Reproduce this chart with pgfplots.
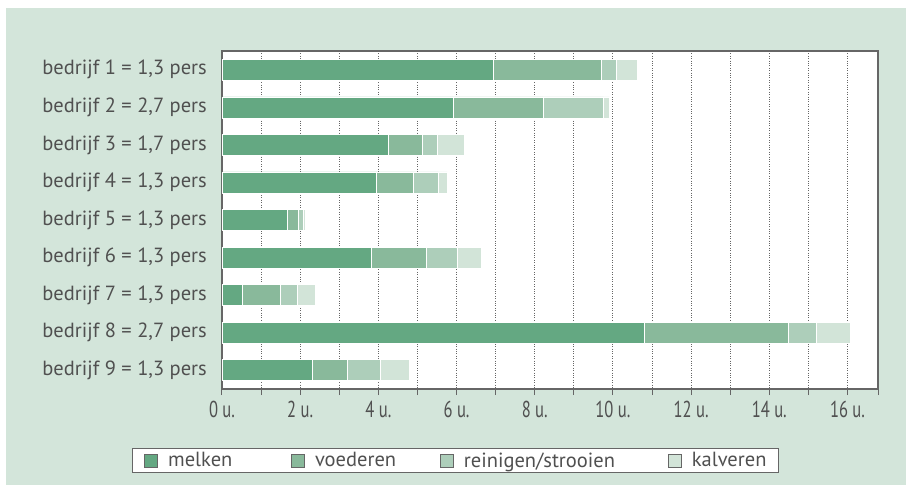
\documentclass[border=0pt]{standalone}
\usepackage{pgfplots}
\usepackage{pgfplotstable}
\pgfplotsset{compat=1.18}
\usepackage{fontspec}
\setmainfont{PT Sans}
\newfontfamily\condfont[FakeStretch=0.72]{PT Sans}

\definecolor{bg}{HTML}{D3E5DA}
\definecolor{melken}{HTML}{64A882}
\definecolor{voeder}{HTML}{89B99B}
\definecolor{reinig}{HTML}{ADCEBA}
\definecolor{kalver}{HTML}{D2E4D8}
\definecolor{txt}{HTML}{505050}
\definecolor{frame}{HTML}{666666}

% uren per taak, per bedrijf
\pgfplotstableread{
y  melken voederen reinigen kalveren
1  6.95   2.76     0.38     0.54
2  5.92   2.30     1.54     0.15
3  4.26   0.86     0.39     0.68
4  3.94   0.95     0.64     0.23
5  1.68   0.26     0.13     0.05
6  3.83   1.39     0.81     0.59
7  0.53   0.97     0.42     0.46
8  10.81  3.67     0.72     0.86
9  2.30   0.90     0.84     0.75
}\uren

\begin{document}
\begin{tikzpicture}
  \fill[white] (0pt,0pt) rectangle (906pt,485pt);
  \fill[bg] (6pt,0pt) rectangle (906pt,477pt);
  \begin{axis}[
      at={(222pt,96pt)}, anchor=south west,
      scale only axis,
      width=656pt, height=338pt,
      xbar stacked,
      bar width=21pt,
      y dir=reverse,
      ymin=0.5, ymax=9.5,
      ytick={1,...,9},
      yticklabels={{bedrijf 1 = 1,3 pers},{bedrijf 2 = 2,7 pers},{bedrijf 3 = 1,7 pers},
                   {bedrijf 4 = 1,3 pers},{bedrijf 5 = 1,3 pers},{bedrijf 6 = 1,3 pers},
                   {bedrijf 7 = 1,3 pers},{bedrijf 8 = 2,7 pers},{bedrijf 9 = 1,3 pers}},
      xmin=0, xmax=16.78,
      xtick={0,...,16},
      xticklabels={0 u.,{},2 u.,{},4 u.,{},6 u.,{},8 u.,{},10 u.,{},12 u.,{},14 u.,{},16 u.},
      extra x ticks={16.78}, extra x tick labels={}, extra x tick style={grid=none},
      xtick pos=bottom,
      tick align=outside,
      major tick length=6pt,
      ytick style={draw=none},
      xtick style={draw=frame, line width=1pt},
      xmajorgrids,
      grid style={dotted, line width=0.9pt, color=frame},
      axis line style={draw=frame, line width=1.4pt},
      axis background/.style={fill=white},
      yticklabel style={font=\fontsize{20.5}{22}\selectfont, text=txt, inner sep=0pt, xshift=-9pt},
      xticklabel style={font=\condfont\fontsize{23}{25}\selectfont, text=txt, yshift=-3pt},
      every axis plot/.append style={draw=white, line width=0.6pt},
      legend columns=4,
      legend cell align=left,
      legend image code/.code={\draw[#1, draw=frame, line width=0.9pt] (0pt,-6.5pt) rectangle (13pt,6.5pt);},
      legend style={at={(axis description cs:0.356,-0.2115)}, anchor=center,
        draw=frame, fill=white, line width=0.9pt,
        font=\fontsize{20.5}{22}\selectfont, text=txt,
        inner xsep=12pt, inner ysep=3.5pt,
        nodes={inner sep=0pt},
        /tikz/every odd column/.append style={column sep=10pt}},
    ]
    \addplot[fill=melken] table[x=melken, y=y] {\uren};
    \addplot[fill=voeder] table[x=voederen, y=y] {\uren};
    \addplot[fill=reinig] table[x=reinigen, y=y] {\uren};
    \addplot[fill=kalver] table[x=kalveren, y=y] {\uren};
    \addlegendentry{\makebox[123pt][l]{melken}}
    \addlegendentry{\makebox[125pt][l]{voederen}}
    \addlegendentry{\makebox[204pt][l]{reinigen/strooien}}
    \addlegendentry{\makebox[75pt][l]{kalveren}}
  \end{axis}
\end{tikzpicture}
\end{document}
